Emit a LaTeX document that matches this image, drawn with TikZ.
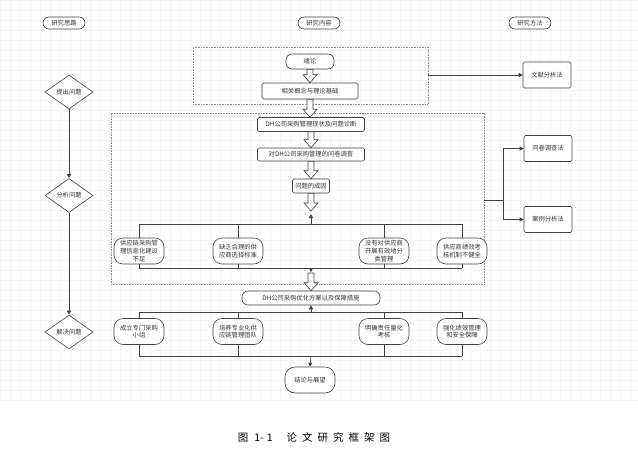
\documentclass[tikz,border=0pt]{standalone}
\usepackage{fontspec}
\newfontfamily\cjk{Noto Sans CJK SC}
\usetikzlibrary{shapes.geometric}
\usetikzlibrary{arrows.meta}
\usetikzlibrary{calc}

\tikzset{
  txt/.style={font=\cjk\fontsize{6.3}{7.8}\selectfont, text=black!80},
  box/.style={txt, draw=black!75, fill=white, line width=0.6pt, rounded corners=1.5pt, align=center, inner sep=1pt},
  pill/.style={box, rounded corners=6pt},
  headbox/.style={pill, minimum width=42pt, minimum height=12pt},
  cause/.style={box, rounded corners=9pt, minimum width=50pt, minimum height=26pt},
  stage/.style={txt, draw=black!75, fill=white, line width=0.6pt, shape=diamond, aspect=1.4, minimum width=48pt, minimum height=34pt, inner sep=0pt},
  way/.style={box, minimum width=48pt, minimum height=26pt},
  frame/.style={draw=black!45, densely dotted, line width=0.6pt, inner sep=0pt},
  link/.style={draw=black!75, line width=0.6pt, arrows={-Triangle[length=4pt,width=4pt]}},
  wire/.style={draw=black!75, line width=0.6pt},
  hollow/.style={draw=black!75, fill=white, line width=0.6pt, line join=miter},
  gridline/.style={draw=black!4, line width=0.4pt}
}

\newcommand{\blockarrow}[2]{%
  \draw[hollow] let \p1=(#1), \p2=(#2) in
    (\x1-3pt,\y1) -- (\x1-3pt,\y2+8pt) -- (\x1-7pt,\y2+8pt) -- (\x1,\y2)
    -- (\x1+7pt,\y2+8pt) -- (\x1+3pt,\y2+8pt) -- (\x1+3pt,\y1) -- cycle;}

\begin{document}
\begin{tikzpicture}[x=1pt,y=-1pt]
  \useasboundingbox (0,0) rectangle (638,459);
  \fill[white] (0,0) rectangle (638,459);
  \draw[gridline, step=10pt] (0,402) grid (638,0);

  \node[headbox] (thinking) at (64,23) {研究思路};
  \node[headbox] (content) at (319,23) {研究内容};
  \node[headbox] (methods) at (530,23) {研究方法};

  \node[frame, minimum width=235pt, minimum height=57pt] (introframe) at (310.5,75.5) {};
  \node[frame, minimum width=373pt, minimum height=171pt] (mainframe) at (297.5,198.5) {};

  \node[pill, minimum width=48pt, minimum height=15pt] (intro) at (310,61.5) {绪论};
  \node[box, minimum width=96pt, minimum height=16pt] (basis) at (310,91) {相关概念与理论基础};
  \node[box, minimum width=107pt, minimum height=14pt] (status) at (311,124.5) {DH公司采购管理现状及问题诊断};
  \node[box, minimum width=107pt, minimum height=13pt] (survey) at (311,154.5) {对DH公司采购管理的问卷调查};
  \node[box, minimum width=37pt, minimum height=14pt] (reason) at (311,186) {问题的成因};
  \node[pill, minimum width=138pt, minimum height=14pt] (plan) at (311,298) {DH公司采购优化方案以及保障措施};
  \node[pill, rounded corners=10pt, minimum width=50pt, minimum height=26pt] (ending) at (310,380) {结论与展望};

  \node[cause] (c1) at (139,251) {供应链采购管\\理信息化建设\\不足};
  \node[cause] (c2) at (238,251) {缺乏合理的供\\应商选择标准};
  \node[cause] (c3) at (384,251) {没有对供应商\\开展有效地分\\类管理};
  \node[cause] (c4) at (462,251) {供应商绩效考\\核机制不健全};

  \node[cause] (s1) at (139,331.5) {成立专门采购\\小组};
  \node[cause] (s2) at (238,331.5) {培养专业化供\\应链管理团队};
  \node[cause] (s3) at (384,331.5) {明确责任量化\\考核};
  \node[cause] (s4) at (462,331.5) {强化绩效管理\\和安全保障};

  \node[stage] (raise) at (69,92) {提出问题};
  \node[stage] (analyse) at (69,195.5) {分析问题};
  \node[stage] (solve) at (69,332) {解决问题};

  \node[way] (literature) at (547,75) {文献分析法};
  \node[way] (questionnaire) at (548,148.5) {问卷调查法};
  \node[way] (casestudy) at (548,219.5) {案例分析法};

  \coordinate (reasonend) at (311,211);
  \coordinate (topbus) at (311,224);
  \coordinate (botbus) at (311,268);
  \coordinate (planstart) at (311,273);
  \coordinate (planbus) at (311,312);
  \coordinate (endbus) at (311,356);
  \coordinate (split) at (503,200);

  \blockarrow{intro.south}{basis.north}
  \blockarrow{basis.south}{status.north}
  \blockarrow{status.south}{survey.north}
  \blockarrow{survey.south}{reason.north}
  \blockarrow{reason.south}{reasonend}
  \blockarrow{planstart}{plan.north}

  \draw[wire] (c1 |- topbus) -- (c4 |- topbus);
  \draw[wire] (c1 |- botbus) -- (c4 |- botbus);
  \draw[wire] (s1 |- planbus) -- (s4 |- planbus);
  \draw[wire] (s1 |- endbus) -- (s4 |- endbus);
  \foreach \n in {c1,c2,c3,c4} {
    \draw[wire] (\n.north) -- (\n |- topbus);
    \draw[wire] (\n.south) -- (\n |- botbus);
  }
  \foreach \n in {s1,s2,s3,s4} {
    \draw[wire] (\n.north) -- (\n |- planbus);
    \draw[wire] (\n.south) -- (\n |- endbus);
  }
  \draw[link] (topbus) -- ++(0,-10);
  \draw[link] (botbus) -- ++(0,4);
  \draw[link] (planbus) -- (plan.south);
  \draw[link] (endbus) -- (ending.north);

  \draw[link] (raise) -- (analyse);
  \draw[link] (analyse) -- (solve);

  \draw[link] (introframe.east |- literature) -- (literature.west);
  \draw[wire] (mainframe.east |- split) -- (split);
  \draw[link] (split) |- (questionnaire.west);
  \draw[link] (split) |- (casestudy.west);

  \node[font=\cjk\fontsize{10.5}{12}\selectfont] (caption) at (314,437)
    {图\hspace{6pt}1-\hspace{3pt}1\hspace{14pt}论\hspace{5pt}文\hspace{5pt}研\hspace{5pt}究\hspace{5pt}框\hspace{5pt}架\hspace{5pt}图};
\end{tikzpicture}
\end{document}
